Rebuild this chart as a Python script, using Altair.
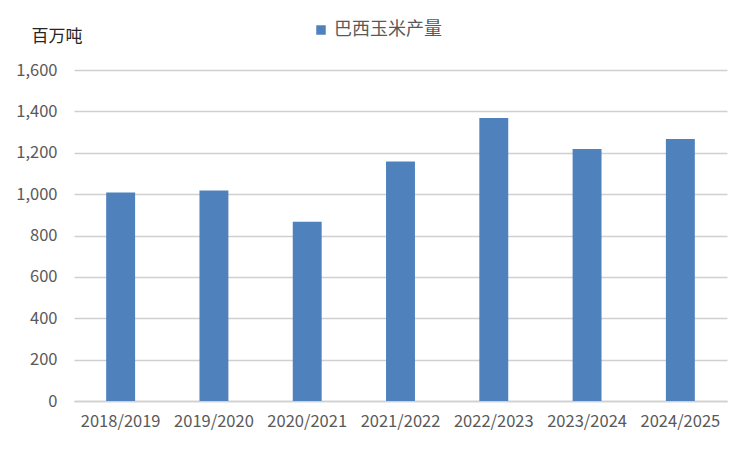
import altair as alt
import pandas as pd

years = ["2018/2019", "2019/2020", "2020/2021", "2021/2022", "2022/2023", "2023/2024", "2024/2025"]
production = [1008, 1018, 867, 1158, 1368, 1218, 1266]
series_name = "巴西玉米产量"

df = pd.DataFrame({"year": years, "value": production, "series": [series_name] * len(years)})

FONT = "Noto Sans CJK SC"
GRAY = "#595959"

chart = alt.Chart(df).mark_bar(color="#4F81BD").encode(
    x=alt.X("year:N", sort=years, title=None,
            scale=alt.Scale(paddingInner=0.69, paddingOuter=0.345),
            axis=alt.Axis(labelAngle=0, labelFontSize=16.5, labelColor=GRAY, labelFont=FONT,
                          ticks=False, domainColor="#d0d0d0", domainWidth=1.5, labelPadding=12)),
    y=alt.Y("value:Q", title="百万吨",
            scale=alt.Scale(domain=[0, 1600], nice=False),
            axis=alt.Axis(values=[0, 200, 400, 600, 800, 1000, 1200, 1400, 1600], format=",.0f",
                          labelFontSize=16.5, labelColor=GRAY, labelFont=FONT, ticks=False, domain=False,
                          labelPadding=17, gridColor="#d0d0d0", gridWidth=1.5,
                          titleAngle=0, titleAlign="left", titleBaseline="alphabetic",
                          titleX=-43, titleY=-29, titleFontSize=17, titleFont=FONT,
                          titleFontWeight="normal", titleColor="#262626")),
    color=alt.Color("series:N", scale=alt.Scale(range=["#4F81BD"]),
                    legend=alt.Legend(title=None, orient="none", legendX=238, legendY=-49,
                                      symbolType="square", symbolSize=90, symbolStrokeWidth=0,
                                      labelFontSize=18, labelColor=GRAY, labelFont=FONT))
).properties(
    width=653, height=331,
    padding={"left": 66, "top": 62, "right": 10, "bottom": 40},
    autosize="none"
).configure_view(stroke=None)

chart.save("out.html", embed_options={"renderer": "svg", "actions": False})
